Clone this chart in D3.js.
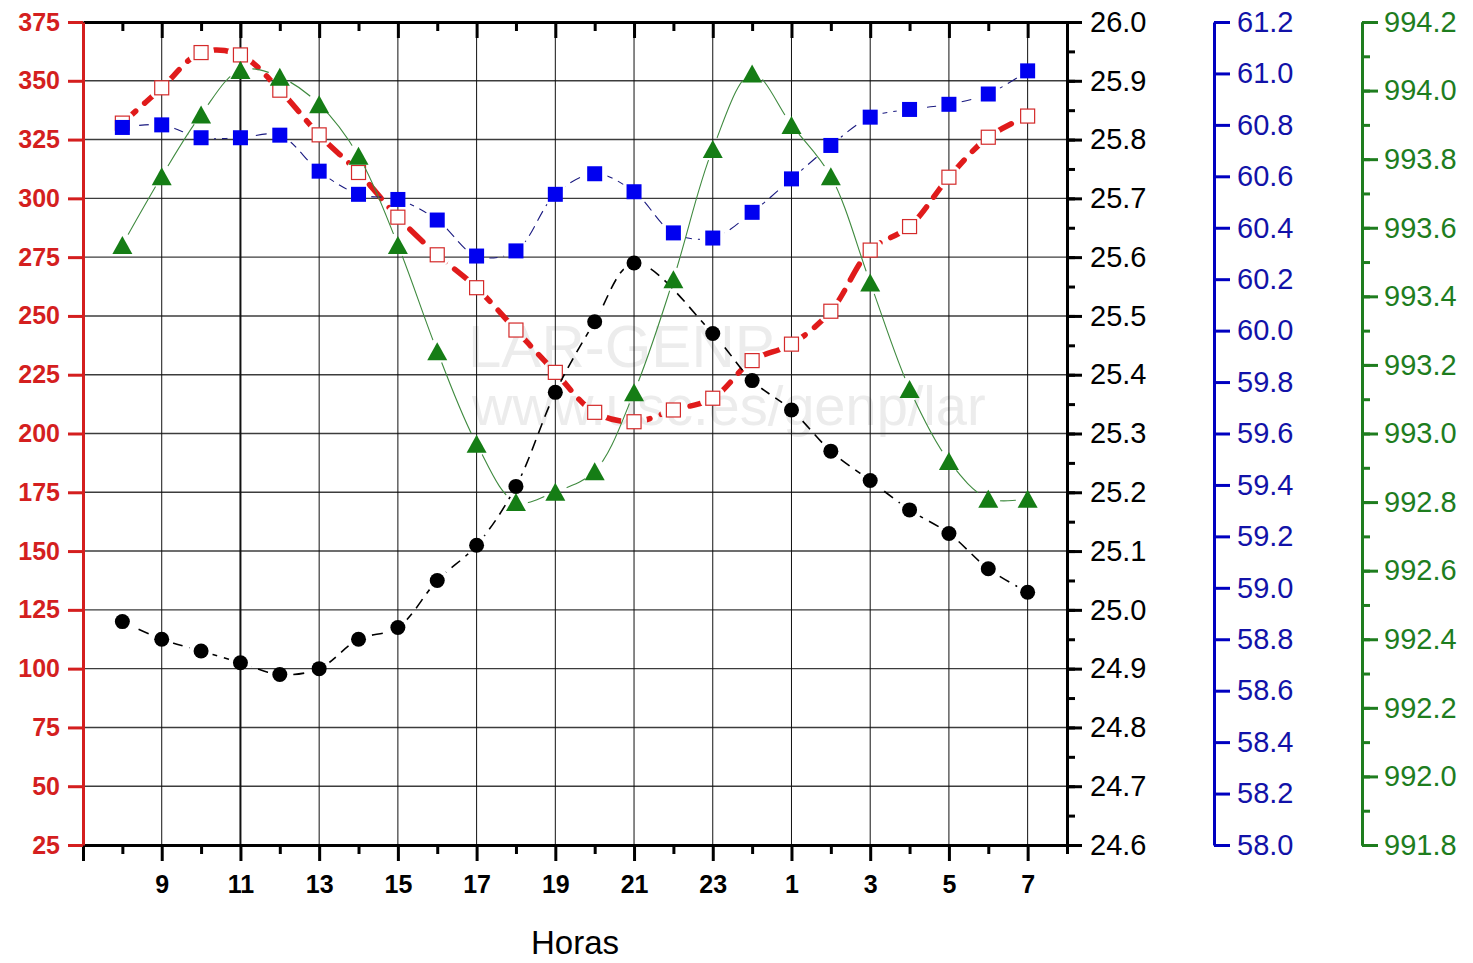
<!DOCTYPE html>
<html>
<head>
<meta charset="utf-8">
<script src="https://cdn.jsdelivr.net/npm/d3@7"></script>
<style>
  body { margin: 0; background: #fff; }
  svg { display: block; font-family: "Liberation Sans", Arial, sans-serif; }
</style>
</head>
<body>
<div id="chart"></div>
<script>
// Data
const hours = [8, 9, 10, 11, 12, 13, 14, 15, 16, 17, 18, 19, 20, 21, 22, 23, 0, 1, 2, 3, 4, 5, 6, 7]

const radon = [332, 347, 362, 361, 346, 327, 311, 292, 276, 262, 244, 226,
  209, 205, 210, 215, 231, 238, 252, 278, 288, 309, 326, 335]

// no marker visible at 22 h (hidden / missing), so left out
const temperature = [24.98, 24.95, 24.93, 24.91, 24.89, 24.90, 24.95, 24.97, 25.05, 25.11, 25.21, 25.37,
  25.49, 25.59, null, 25.47, 25.39, 25.34, 25.27, 25.22, 25.17, 25.13, 25.07, 25.03]

const humidity = [60.79, 60.80, 60.75, 60.75, 60.76, 60.62, 60.53, 60.51, 60.43, 60.29, 60.31, 60.53,
  60.61, 60.54, 60.38, 60.36, 60.46, 60.59, 60.72, 60.83, 60.86, 60.88, 60.92, 61.01]

const pressure = [993.55, 993.75, 993.93, 994.06, 994.04, 993.96, 993.81, 993.55, 993.24, 992.97, 992.80, 992.83,
  992.89, 993.12, 993.45, 993.83, 994.05, 993.90, 993.75, 993.44, 993.13, 992.92, 992.81, 992.81]

const radonTicks = d3.range(25, 376, 25)
const tempTicks = d3.range(0, 15).map(i => 24.6 + i * 0.1)
const tempMinor = d3.range(0, 29).map(i => 24.6 + i * 0.05)
const humTicks = d3.range(0, 17).map(i => 58 + i * 0.2)
const presTicks = d3.range(0, 13).map(i => 991.8 + i * 0.2)
const presMinor = d3.range(0, 25).map(i => 991.8 + i * 0.1)

// Dimensions
const width = 1473
const height = 963
const plot = { left: 83, right: 1067, top: 22, bottom: 845 }
const font = '"Liberation Sans", Arial, sans-serif'

const svg = d3.select('#chart')
  .append('svg')
  .attr('width', width)
  .attr('height', height)

const defs = svg.append('defs')

// Scales
const xScale = d3.scaleLinear()
  .domain([-1, hours.length])
  .range([plot.left, plot.right])
const hourAt = i => hours[(i + hours.length) % hours.length]

const yRadon = d3.scaleLinear().domain([25, 375]).range([plot.bottom, plot.top])
const yTemp = d3.scaleLinear().domain([24.6, 26.0]).range([plot.bottom, plot.top])
const yHum = d3.scaleLinear().domain([58.0, 61.2]).range([plot.bottom, plot.top])
const yPres = d3.scaleLinear().domain([991.8, 994.2]).range([plot.bottom, plot.top])

// Watermark
const wm = svg.append('g').attr('fill', '#ececec').attr('font-family', font)
wm.append('text').attr('x', 468).attr('y', 367).attr('font-size', 60).text('LAR-GENP')
wm.append('text').attr('x', 472).attr('y', 425).attr('font-size', 56).text('www.usc.es/genp/lar')

// Grid
const grid = svg.append('g')
grid.selectAll('line.h')
  .data(radonTicks.slice(1, -1))
  .join('line')
  .attr('class', 'h')
  .attr('x1', plot.left).attr('x2', plot.right)
  .attr('y1', d => yRadon(d)).attr('y2', d => yRadon(d))
  .attr('stroke', '#3c3c3c').attr('stroke-width', 1.4)

grid.selectAll('line.v')
  .data(d3.range(1, hours.length, 2))
  .join('line')
  .attr('class', 'v')
  .attr('x1', d => xScale(d)).attr('x2', d => xScale(d))
  .attr('y1', plot.top).attr('y2', plot.bottom)
  .attr('stroke', '#111')
  .attr('stroke-width', d => hourAt(d) === 11 ? 2 : 1)

// Series
const series = [
  { values: radon, scale: yRadon, stroke: '#e01b1b', width: 5.5, dash: '18,12', cap: 'round', gap: 13, marker: 'openSquare' },
  { values: temperature, scale: yTemp, stroke: '#000', width: 1.6, dash: '11,7', cap: 'butt', gap: 12, marker: 'circle' },
  { values: humidity, scale: yHum, stroke: '#1a1a80', width: 1.1, dash: '11,6', cap: 'butt', gap: 13, marker: 'square' },
  { values: pressure, scale: yPres, stroke: '#3f8a3f', width: 1.1, dash: null, cap: 'butt', gap: 12, marker: 'triangle' },
]

series.forEach((s, k) => {
  const data = s.values
    .map((v, i) => ({ i, v }))
    .filter(d => d.v != null)
  const pts = data.map(d => [xScale(d.i), s.scale(d.v)])

  // Origin-style gaps in the line around each marker
  const mask = defs.append('mask')
    .attr('id', `gap${k}`)
    .attr('maskUnits', 'userSpaceOnUse')
    .attr('x', 0).attr('y', 0).attr('width', width).attr('height', height)
  mask.append('rect').attr('width', width).attr('height', height).attr('fill', 'white')
  mask.selectAll('circle')
    .data(pts)
    .join('circle')
    .attr('cx', d => d[0]).attr('cy', d => d[1]).attr('r', s.gap)
    .attr('fill', 'black')

  const line = d3.line()
    .x(d => xScale(d.i))
    .y(d => s.scale(d.v))
    .curve(d3.curveCatmullRom.alpha(0.5))

  svg.append('path')
    .datum(data)
    .attr('d', line)
    .attr('fill', 'none')
    .attr('stroke', s.stroke)
    .attr('stroke-width', s.width)
    .attr('stroke-dasharray', s.dash)
    .attr('stroke-linecap', s.cap)
    .attr('mask', `url(#gap${k})`)

  const g = svg.append('g')
  if (s.marker === 'openSquare') {
    g.selectAll('rect').data(pts).join('rect')
      .attr('x', d => d[0] - 7).attr('y', d => d[1] - 7)
      .attr('width', 14).attr('height', 14)
      .attr('fill', '#fff').attr('stroke', '#d42a2a').attr('stroke-width', 1.2)
  } else if (s.marker === 'square') {
    g.selectAll('rect').data(pts).join('rect')
      .attr('x', d => d[0] - 7.5).attr('y', d => d[1] - 7.5)
      .attr('width', 15).attr('height', 15)
      .attr('fill', '#0000f0')
  } else if (s.marker === 'circle') {
    g.selectAll('circle').data(pts).join('circle')
      .attr('cx', d => d[0]).attr('cy', d => d[1]).attr('r', 7.5)
      .attr('fill', '#000')
  } else {
    g.selectAll('path').data(pts).join('path')
      .attr('d', d => `M${d[0]},${d[1] - 9}L${d[0] + 10},${d[1] + 9}L${d[0] - 10},${d[1] + 9}Z`)
      .attr('fill', '#157d15')
  }
})

// Axes
function styleAxis(g, color, size, weight, lineWidth) {
  g.attr('font-family', font).attr('font-size', size).attr('font-weight', weight)
  g.select('.domain').attr('stroke', color).attr('stroke-width', lineWidth)
  g.selectAll('.tick line').attr('stroke', color).attr('stroke-width', lineWidth)
  g.selectAll('.tick text').attr('fill', color)
}

// bottom
const xAxis = d3.axisBottom(xScale)
  .tickValues(d3.range(-1, hours.length + 1))
  .tickSize(16)
  .tickSizeOuter(0)
  .tickPadding(14)
  .tickFormat(i => (i >= 0 && i < hours.length && hourAt(i) % 2 === 1) ? hourAt(i) : '')
const gx = svg.append('g')
  .attr('transform', `translate(0, ${plot.bottom})`)
  .call(xAxis)
styleAxis(gx, '#000', 25, 'bold', 3)
gx.selectAll('.tick line').attr('y2', i => hourAt(i) % 2 === 1 ? 16 : 9)

// top
const xTop = d3.axisTop(xScale)
  .tickValues(d3.range(-1, hours.length + 1))
  .tickSize(-16)
  .tickSizeOuter(0)
  .tickFormat('')
const gt = svg.append('g')
  .attr('transform', `translate(0, ${plot.top})`)
  .call(xTop)
styleAxis(gt, '#000', 10, 'normal', 3)
gt.selectAll('.tick line').attr('y2', i => hourAt(i) % 2 === 1 ? 16 : 9)

// left (radon)
const gl = svg.append('g')
  .attr('transform', `translate(${plot.left}, 0)`)
  .call(d3.axisLeft(yRadon).tickValues(radonTicks).tickSize(15).tickSizeOuter(0).tickPadding(8))
styleAxis(gl, '#d41f1f', 25, 'bold', 3)

// right (temperature)
svg.append('g')
  .attr('transform', `translate(${plot.right}, 0)`)
  .call(d3.axisRight(yTemp).tickValues(tempMinor).tickSize(8).tickSizeOuter(0).tickFormat(''))
  .call(g => styleAxis(g, '#000', 10, 'normal', 3))
const gr = svg.append('g')
  .attr('transform', `translate(${plot.right}, 0)`)
  .call(d3.axisRight(yTemp).tickValues(tempTicks).tickSize(15).tickSizeOuter(0).tickPadding(8).tickFormat(d3.format('.1f')))
styleAxis(gr, '#000', 29, 'normal', 3)

// humidity
const gh = svg.append('g')
  .attr('transform', 'translate(1214, 0)')
  .call(d3.axisRight(yHum).tickValues(humTicks).tickSize(16).tickSizeOuter(0).tickPadding(7).tickFormat(d3.format('.1f')))
styleAxis(gh, '#1212a8', 29, 'normal', 3)
gh.select('.domain').attr('stroke', '#0000c0')
gh.selectAll('.tick line').attr('stroke', '#0000c0')

// pressure
svg.append('g')
  .attr('transform', 'translate(1362, 0)')
  .call(d3.axisRight(yPres).tickValues(presMinor).tickSize(8).tickSizeOuter(0).tickFormat(''))
  .call(g => styleAxis(g, '#1e7d1e', 10, 'normal', 3))
const gp = svg.append('g')
  .attr('transform', 'translate(1362, 0)')
  .call(d3.axisRight(yPres).tickValues(presTicks).tickSize(16).tickSizeOuter(0).tickPadding(6).tickFormat(d3.format('.1f')))
styleAxis(gp, '#1e7d1e', 29, 'normal', 3)

// Axis title
svg.append('text')
  .attr('x', 575)
  .attr('y', 954)
  .attr('text-anchor', 'middle')
  .attr('font-family', font)
  .attr('font-size', 33)
  .text('Horas')
</script>
</body>
</html>
